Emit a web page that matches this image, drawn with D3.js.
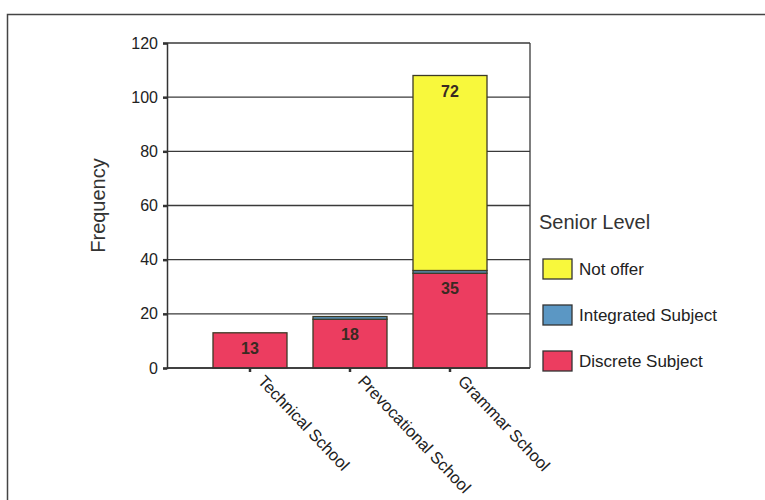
<!DOCTYPE html>
<html>
<head>
<meta charset="utf-8">
<script src="https://cdn.jsdelivr.net/npm/d3@7"></script>
<style>
  html, body { margin: 0; padding: 0; background: #fff; }
  svg { display: block; font-family: "Liberation Sans", Arial, sans-serif; }
</style>
</head>
<body>
<svg id="chart" width="765" height="500"></svg>
<script>
// School types on the x axis
const categories = ["Technical School", "Prevocational School", "Grammar School"];
// Stacked series, bottom to top
const discrete = [13, 18, 35];
const integrated = [0, 1, 1];
const notOffer = [0, 0, 72];
const seriesNames = ["Discrete Subject", "Integrated Subject", "Not offer"];
const yTicks = [0, 20, 40, 60, 80, 100, 120];

const colors = {
  "Discrete Subject": "#ec3d60",
  "Integrated Subject": "#5b97c4",
  "Not offer": "#f8f83c"
};

const svg = d3.select("#chart");

// outer frame
svg.append("rect")
  .attr("x", 7.5).attr("y", 14.5)
  .attr("width", 800).attr("height", 520)
  .attr("fill", "none").attr("stroke", "#444").attr("stroke-width", 1.5);

const plot = { left: 167, right: 530, top: 43, bottom: 368 };

const x = d3.scaleBand()
  .domain(categories)
  .range([200, 500])
  .paddingInner(0.26)
  .paddingOuter(0.13);

const y = d3.scaleLinear()
  .domain([0, 120])
  .range([plot.bottom, plot.top]);

// gridlines
svg.append("g")
  .selectAll("line")
  .data(yTicks)
  .join("line")
  .attr("x1", plot.left).attr("x2", plot.right)
  .attr("y1", d => y(d)).attr("y2", d => y(d))
  .attr("stroke", "#3a3a3a").attr("stroke-width", 1.3);

// right border of plot
svg.append("line")
  .attr("x1", plot.right).attr("x2", plot.right)
  .attr("y1", plot.top).attr("y2", plot.bottom)
  .attr("stroke", "#3a3a3a").attr("stroke-width", 1.3);

// stacked data
const table = categories.map((c, i) => ({
  category: c,
  "Discrete Subject": discrete[i],
  "Integrated Subject": integrated[i],
  "Not offer": notOffer[i]
}));
const stacked = d3.stack().keys(seriesNames)(table);

svg.append("g")
  .selectAll("g")
  .data(stacked)
  .join("g")
  .attr("fill", d => colors[d.key])
  .selectAll("rect")
  .data(d => d.filter(p => p[1] - p[0] > 0))
  .join("rect")
  .attr("x", d => x(d.data.category))
  .attr("width", x.bandwidth())
  .attr("y", d => y(d[1]))
  .attr("height", d => y(d[0]) - y(d[1]))
  .attr("stroke", "#3c3a26")
  .attr("stroke-width", 1.3);

// value labels near top of the labelled segments
const labelSeries = stacked.filter(s => s.key !== "Integrated Subject");
svg.append("g")
  .selectAll("g")
  .data(labelSeries)
  .join("g")
  .selectAll("text")
  .data(d => d.filter(p => p[1] - p[0] > 0).map(p => ({ p, v: p[1] - p[0] })))
  .join("text")
  .attr("x", d => x(d.p.data.category) + x.bandwidth() / 2)
  .attr("y", d => y(d.p[1]) + 21)
  .attr("text-anchor", "middle")
  .attr("font-size", 16)
  .attr("font-weight", "bold")
  .attr("fill", "#3a2a22")
  .text(d => d.v);

// y axis
const yAxis = d3.axisLeft(y).tickValues(yTicks).tickSize(4).tickPadding(5);
const gy = svg.append("g")
  .attr("transform", `translate(${plot.left},0)`)
  .call(yAxis);
gy.select(".domain").attr("stroke", "#333").attr("stroke-width", 1.5);
gy.selectAll(".tick line").attr("stroke", "#333").attr("stroke-width", 2.5);
gy.selectAll(".tick text")
  .attr("font-size", 16).attr("fill", "#222")
  .attr("font-family", "'Liberation Sans', Arial, sans-serif");

// x axis
const xAxis = d3.axisBottom(x).tickSize(4).tickFormat("");
const gx = svg.append("g")
  .attr("transform", `translate(0,${plot.bottom})`)
  .call(xAxis);
gx.select(".domain").remove();
gx.selectAll(".tick line").attr("stroke", "#333").attr("stroke-width", 2.5);
svg.append("line")
  .attr("x1", plot.left).attr("x2", plot.right)
  .attr("y1", plot.bottom).attr("y2", plot.bottom)
  .attr("stroke", "#333").attr("stroke-width", 1.5);

// rotated category labels
svg.append("g")
  .selectAll("text")
  .data(categories)
  .join("text")
  .attr("transform", d => `translate(${x(d) + x.bandwidth() / 2 + 7},${plot.bottom + 14}) rotate(46.5)`)
  .attr("font-size", 16.5)
  .attr("fill", "#222")
  .text(d => d);

// y axis title
svg.append("text")
  .attr("transform", `translate(105,${(plot.top + plot.bottom) / 2}) rotate(-90)`)
  .attr("text-anchor", "middle")
  .attr("font-size", 20)
  .attr("fill", "#333")
  .text("Frequency");

// legend
const legend = svg.append("g");
legend.append("text")
  .attr("x", 539).attr("y", 229)
  .attr("font-size", 20).attr("fill", "#333")
  .text("Senior Level");

const legendOrder = ["Not offer", "Integrated Subject", "Discrete Subject"];
const li = legend.selectAll("g.item")
  .data(legendOrder)
  .join("g")
  .attr("class", "item")
  .attr("transform", (d, i) => `translate(543,${259 + i * 46})`);
li.append("rect")
  .attr("width", 29).attr("height", 20)
  .attr("fill", d => colors[d])
  .attr("stroke", "#333").attr("stroke-width", 1.3);
li.append("text")
  .attr("x", 36).attr("y", 16)
  .attr("font-size", 17).attr("fill", "#222")
  .text(d => d);
</script>
</body>
</html>
